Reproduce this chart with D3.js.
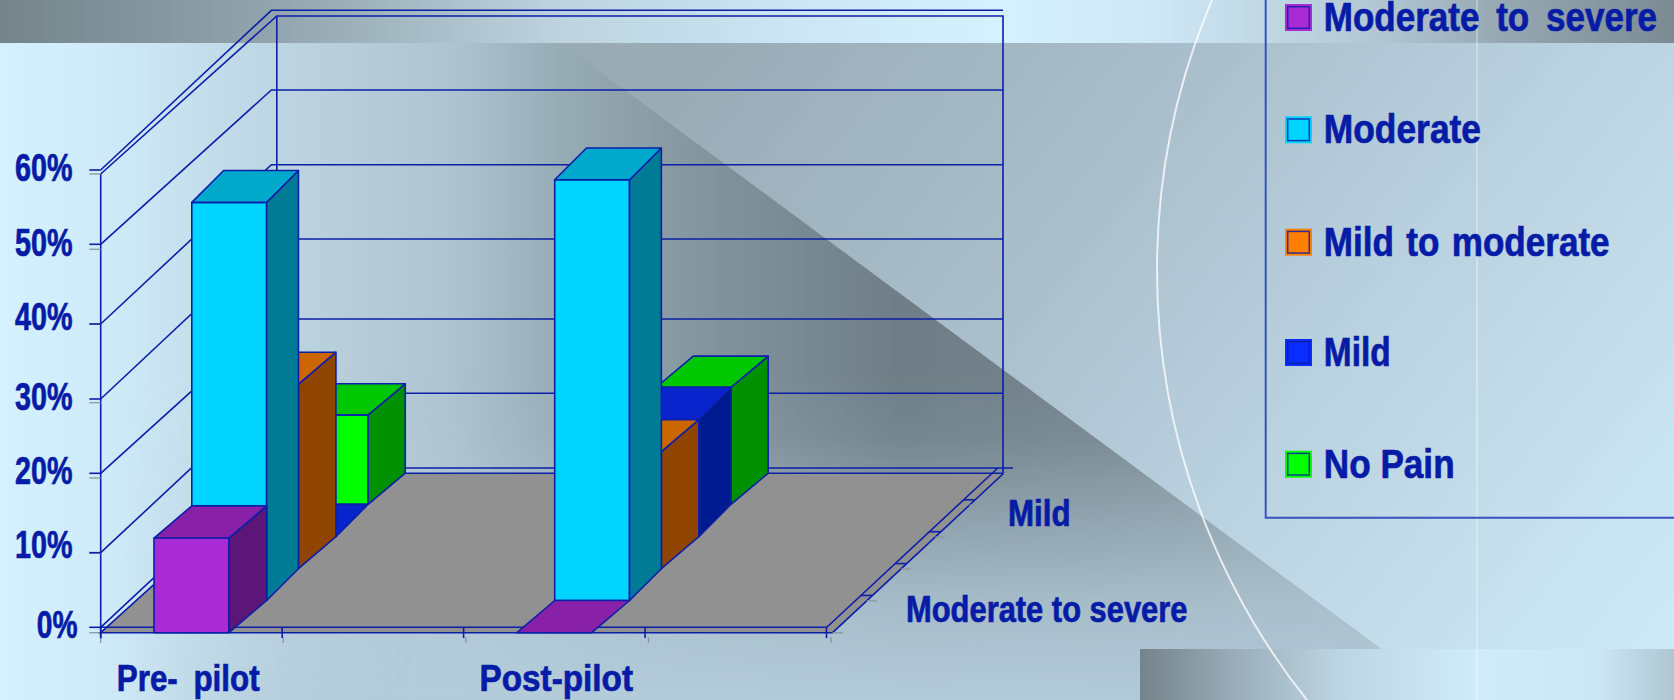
<!DOCTYPE html>
<html><head><meta charset="utf-8">
<script src="https://d3js.org/d3.v7.min.js"></script>
<style>html,body{margin:0;padding:0;background:#cfeafa;overflow:hidden}svg{display:block}
text{font-family:"Liberation Sans",Arial,sans-serif;font-weight:bold;fill:#061ca6;stroke:#061ca6;stroke-width:.7px;white-space:pre}</style>
</head><body><script>
// ---------- data ----------
const categories = ["Pre- pilot", "", "Post-pilot", " "];
const seriesNames = ["Moderate to severe", "Moderate", "Mild to moderate", "Mild", "No Pain"];
const moderateToSevere = [12, null, 0, null];
const moderate = [52, null, 55, null];
const mildToModerate = [24, null, 15, null];
const mild = [0, null, 15, null];
const noPain = [11.3, null, 15, null];
const yTickValues = [0, 10, 20, 30, 40, 50, 60];
const depthLabels = ["Moderate to severe", "Mild"];

const seriesValues = [moderateToSevere, moderate, mildToModerate, mild, noPain];
const faceColors = [
  {front:"#a82bd6", top:"#8820a8", side:"#5c1678", legend:"#a82bd6"},
  {front:"#00d5ff", top:"#00a8cc", side:"#007b96", legend:"#00d5ff"},
  {front:"#ff7f00", top:"#cc6600", side:"#8f4400", legend:"#ff7f00"},
  {front:"#0a2dff", top:"#0824cc", side:"#001a90", legend:"#0a2dff"},
  {front:"#00ff00", top:"#00c800", side:"#009000", legend:"#00ff00"}
];
const INK = "#0b1fa8", GREY = "#8a979f", LW = 1.6;

const W = 1674, H = 700;
const svg = d3.select("body").append("svg").attr("width", W).attr("height", H);
const defs = svg.append("defs");
function grad(id, stops, x1, y1, x2, y2) {
  const g = defs.append("linearGradient").attr("id", id).attr("gradientUnits", "userSpaceOnUse")
    .attr("x1", x1).attr("y1", y1).attr("x2", x2).attr("y2", y2);
  stops.forEach(s => g.append("stop").attr("offset", s[0]).attr("stop-color", s[1]).attr("stop-opacity", s[2] === undefined ? 1 : s[2]));
}
const hs = (arr, x0, x1) => arr.map(d => [(d[0]-x0)/(x1-x0), d[1], d[2]]);

// ---------- background ----------
grad("topBand", hs([[0,"#75848b"],[280,"#93a5ae"],[560,"#bdd3df"],[800,"#cce6f5"],[1000,"#d5f1ff"],[1150,"#cfe8f5"],[1300,"#bcd3df"],[1390,"#b0c4d0"],[1500,"#96a8b2"],[1674,"#7c8b93"]],0,1674),0,0,1674,0);
grad("lowerLeft", hs([[0,"#d4f1ff"],[100,"#cfebfa"],[280,"#bdd4e1"],[450,"#aec4d0"],[560,"#98acb6"],[700,"#84959e"],[900,"#6f7e86"],[1100,"#76858d"],[1450,"#8f9fa8"]],0,1450),0,0,1450,0);
grad("upperRight", [[0,"#99abb5"],[0.35,"#aabfcc"],[0.7,"#c0d8e6"],[1,"#cdeaf9"]],700,43,1600,760);
grad("fadeColor", hs([[0,"#b4ccda",0],[120,"#b4ccda",0],[420,"#b4ccda",1],[1450,"#b2c9d7",1]],0,1450),0,0,1450,0);
grad("fadeMask", [[0,"#000"],[0.2,"#1a1a1a"],[0.7,"#ccc"],[1,"#fff"]],0,370,0,700);
grad("botBand", hs([[1140,"#75838a"],[1250,"#9fb3bf"],[1340,"#bdd5e2"],[1480,"#d0ecfa"],[1600,"#cbe6f4"],[1674,"#afc5d2"]],1140,1674),1140,0,1674,0);
defs.append("mask").attr("id","fade").attr("maskUnits","userSpaceOnUse").attr("x",0).attr("y",0).attr("width",W).attr("height",H)
  .append("rect").attr("width",W).attr("height",H).attr("fill","url(#fadeMask)");

const bg = svg.append("g");
const line = d3.line();
bg.append("rect").attr("width",W).attr("height",43).attr("fill","url(#topBand)");
bg.append("rect").attr("y",43).attr("width",W).attr("height",H-43).attr("fill","url(#upperRight)");
const lowerPoly = [[0,43],[561,43],[1450,700],[0,700]];
bg.append("path").attr("d",line(lowerPoly)+"Z").attr("fill","url(#lowerLeft)");
bg.append("path").attr("d",line(lowerPoly)+"Z").attr("fill","url(#fadeColor)").attr("mask","url(#fade)");
bg.append("rect").attr("x",1140).attr("y",649).attr("width",W-1140).attr("height",51).attr("fill","url(#botBand)");
bg.append("circle").attr("cx",1848).attr("cy",270).attr("r",691).attr("fill","none").attr("stroke","#fff").attr("stroke-opacity",.75).attr("stroke-width",2);
bg.append("line").attr("x1",1477).attr("x2",1477).attr("y1",0).attr("y2",H).attr("stroke","#fff").attr("stroke-opacity",.3).attr("stroke-width",2);

// ---------- scales ----------
const xBand = d3.scaleBand().domain(d3.range(categories.length)).range([100.7,826.5]).paddingInner(.5875).paddingOuter(.29375);
const xTickBlue = d3.scaleLinear().domain([0,categories.length]).range([100.7,826.5]);
const xTickGrey = d3.scaleLinear().domain([0,categories.length]).range([100.7,831]);
const rowIndex = d3.range(seriesNames.length + 1);
const depthX = d3.scaleLinear().domain(rowIndex).range([0,37.8,69.6,107.1,139.3,176.4]);
const depthY = d3.scaleLinear().domain(rowIndex).range([0,32.2,64,96,128.4,159.5]);
const hScale  = d3.scaleLinear().domain(yTickValues).range([0,79.7,154.4,229.7,308.4,383.1,458.4]);
const yFront  = d3.scaleLinear().domain(yTickValues).range([627.3,552.7,473.3,399,324,244.3,170]);
const yOuter  = d3.scaleLinear().domain(yTickValues).range([632.7,553,478,402.7,324,249.3,174]);
const yBack   = d3.scaleLinear().domain(yTickValues).range([468,393.3,319,239,164.7,90,10.3]);
const LEFT = 100.7, BACKIN = 271.4, BACK = 276.8, RIGHT = 1003, BASE = 632.7, FLOORBACK = 473.3, WALLTOP = 16;
const stroke = sel => sel.attr("stroke",INK).attr("stroke-width",LW).attr("fill","none");

// ---------- walls ----------
const chart = svg.append("g");
yTickValues.forEach(v => {
  stroke(chart.append("path")).attr("d", line([[LEFT,yFront(v)],[BACKIN,yBack(v)],[v===0?1013:RIGHT,yBack(v)]]));
});
stroke(chart.append("path")).attr("d", line([[LEFT,yOuter(60)],[BACK,WALLTOP],[RIGHT,WALLTOP],[RIGHT,FLOORBACK]]));
stroke(chart.append("path")).attr("d", line([[BACK,WALLTOP],[BACK,FLOORBACK]]));
stroke(chart.append("path")).attr("d", line([[LEFT,yOuter(60)],[LEFT,BASE+6]]));

// y-axis ticks
yTickValues.forEach(v => {
  chart.append("line").attr("x1",89.3).attr("x2",LEFT).attr("y1",yOuter(v)).attr("y2",yOuter(v)).attr("stroke",GREY).attr("stroke-width",1.3);
  chart.append("line").attr("x1",89.3).attr("x2",LEFT).attr("y1",yFront(v)).attr("y2",yFront(v)).attr("stroke",INK).attr("stroke-width",LW);
});

// floor
const FR = 832.6;
chart.append("path").attr("d", line([[LEFT,BASE],[BACK,FLOORBACK],[RIGHT+.6,FLOORBACK],[FR,BASE]])+"Z")
  .attr("fill","#919191").attr("stroke",INK).attr("stroke-width",LW);
stroke(chart.append("path")).attr("d", line([[LEFT,yFront(0)],[826.8,yFront(0)],[997.8,yBack(0)]]));

// category ticks
d3.range(categories.length+1).forEach(i => {
  chart.append("line").attr("x1",xTickGrey(i)).attr("x2",xTickGrey(i)).attr("y1",637).attr("y2",643).attr("stroke",GREY).attr("stroke-width",1.3);
  chart.append("line").attr("x1",xTickBlue(i)).attr("x2",xTickBlue(i)).attr("y1",627.3).attr("y2",638).attr("stroke",INK).attr("stroke-width",LW);
});
// depth ticks
rowIndex.forEach(i => {
  const t = i/seriesNames.length;
  const gx = FR + t*171, gy = BASE - t*159.4;
  const bx = 826.8 + t*171, by = yFront(0) - t*159.3;
  chart.append("line").attr("x1",gx).attr("x2",gx+10).attr("y1",gy).attr("y2",gy).attr("stroke",GREY).attr("stroke-width",1.3);
  if (i>0 && i<seriesNames.length) chart.append("line").attr("x1",bx).attr("x2",bx+11).attr("y1",by).attr("y2",by).attr("stroke",INK).attr("stroke-width",LW);
});

// ---------- bars, back row first ----------
const bars = svg.append("g");
d3.range(seriesNames.length).reverse().forEach(s => {
  categories.forEach((c, ci) => {
    const v = seriesValues[s][ci];
    if (v === null) return;
    const x0 = xBand(ci) + depthX(s), x1 = x0 + xBand.bandwidth();
    const ox = depthX(s+1)-depthX(s), oy = depthY(s+1)-depthY(s);
    const yb = BASE - depthY(s), yt = yb - hScale(v);
    const face = (pts, fill) => bars.append("path").attr("d", line(pts)+"Z").attr("fill",fill)
      .attr("stroke",INK).attr("stroke-width",LW).attr("stroke-linejoin","round");
    if (v > 0) {
      face([[x0,yb],[x1,yb],[x1,yt],[x0,yt]], faceColors[s].front);
      face([[x1,yb],[x1+ox,yb-oy],[x1+ox,yt-oy],[x1,yt]], faceColors[s].side);
    }
    face([[x0,yt],[x1,yt],[x1+ox,yt-oy],[x0+ox,yt-oy]], faceColors[s].top);
  });
});

// ---------- text ----------
const txt = svg.append("g");
function label(str, x0, x1, baseline, size, ws) {
  return txt.append("text").attr("x",x0).attr("y",baseline).attr("font-size",size)
    .attr("textLength",x1-x0).attr("lengthAdjust","spacingAndGlyphs")
    .style("word-spacing",(ws||0)+"px").text(str);
}
const yLabelBase = {0:638,10:558,20:484,30:410,40:330,50:256,60:181};
yTickValues.forEach(v => {
  if (v===0) label(v+"%",36.8,77.5,yLabelBase[v],38);
  else label(v+"%",15,72.5,yLabelBase[v],38);
});
label(categories[0],116.8,259.6,690.7,36,8);
label(categories[2],479.6,633,690.7,36);
label(depthLabels[1],1008,1070.5,525.7,36);
label(depthLabels[0],906,1187.5,621.7,36);

// ---------- legend ----------
const legend = svg.append("g");
legend.append("path").attr("d", line([[1265.7,-5],[1265.7,517.7],[W+5,517.7]])).attr("fill","none").attr("stroke","#3a50bc").attr("stroke-width",2);
const legendEnds = [1657,1481,1609.6,1390.6,1454.6];
const legendBase = [31,143.3,255.7,366,477.7];
seriesNames.forEach((n,i) => {
  const top = legendBase[i]-27;
  legend.append("rect").attr("x",1285).attr("y",top).attr("width",27).attr("height",27).attr("fill",faceColors[i].legend);
  legend.append("rect").attr("x",1287.7).attr("y",top+2.7).attr("width",21.6).attr("height",21.6).attr("fill","none").attr("stroke",INK).attr("stroke-opacity",.85).attr("stroke-width",1.5);
  label(n,1323.8,legendEnds[i],legendBase[i],40,i===0?8:(i===2?3:0));
});
</script></body></html>
